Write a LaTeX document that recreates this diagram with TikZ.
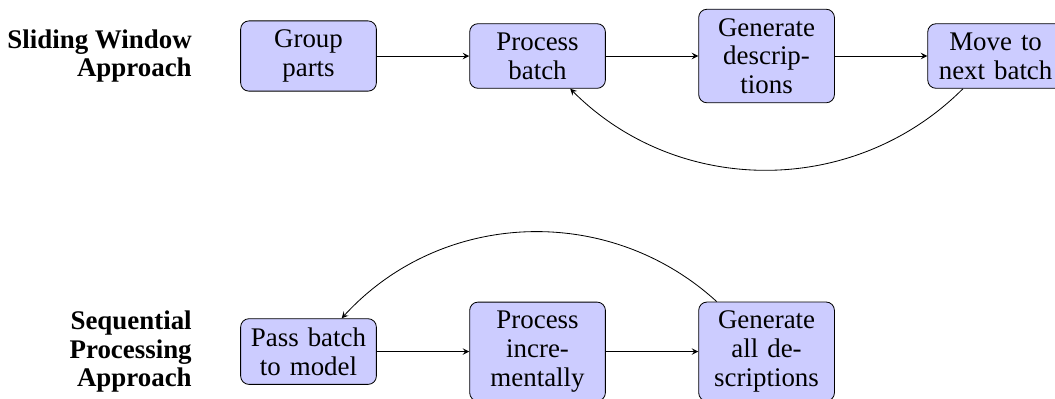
\documentclass[tikz,border=0pt]{standalone}
\usepackage{fontspec}
\setmainfont{Liberation Serif}
\usepackage{tikz}
\usetikzlibrary{arrows,positioning}

\begin{document}
\begin{tikzpicture}[>=stealth, node distance=1.57cm,
	font=\fontsize{13}{13.9}\selectfont,
	every step/.style={draw, fill=blue!20, rounded corners, inner sep=4.33pt, text width=2cm, align=center},
	every title/.style={font=\fontsize{13}{13.9}\selectfont\bfseries, align=right}]
	
	\useasboundingbox (-5.238,-5.823) rectangle (12.674,0.951);
	
	% sliding window
	\node [every step/.try] (group) at (0,0) {Group parts};
	\node [every step/.try, right=of group] (batch) {Process batch};
	\node [every step/.try, right=of batch] (gen) {Generate descriptions};
	\node [every step/.try, right=of gen] (move) {Move to next batch};
	
	% sequential processing
	\node [every step/.try, below=3.85cm of group] (pass) {Pass batch to model};
	\node [every step/.try, right=of pass] (incr) {Process incrementally};
	\node [every step/.try, right=of incr] (genall) {Generate all descriptions};
	
	\node [every title/.try, left=0.7cm of group] (sliding) {Sliding Window\\Approach};
	\node [every title/.try, left=0.7cm of pass] (sequential) {Sequential\\Processing\\Approach};
	
	\foreach \a/\b in {group/batch, batch/gen, gen/move, pass/incr, incr/genall}
	\draw [->] (\a) -- (\b);
	
	\draw [->] (move) to [bend left=45] (batch);
	\draw [->] (genall) to [bend right=45] (pass);
	
\end{tikzpicture}
\end{document}
